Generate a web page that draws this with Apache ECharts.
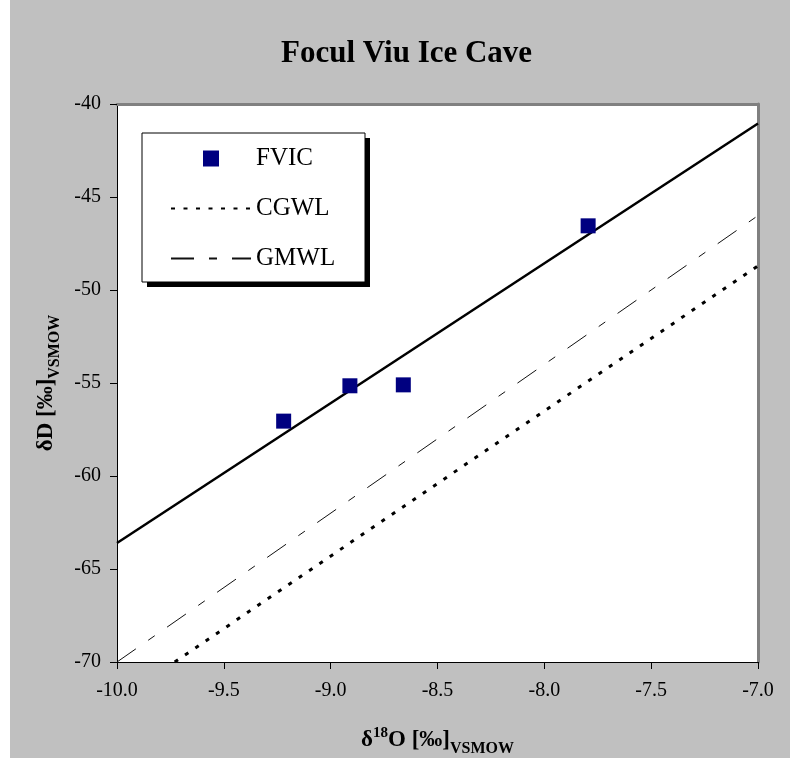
<!DOCTYPE html>
<html>
<head>
<meta charset="utf-8">
<script src="https://cdn.jsdelivr.net/npm/echarts@6/dist/echarts.min.js"></script>
<style>
  html, body { margin: 0; padding: 0; background: #fff; }
  #chart { position: absolute; left: 10px; top: 0; width: 780px; height: 758px; }
</style>
</head>
<body>
<div id="chart"></div>
<script>
// FVIC samples: [δ18O, δD] in ‰ VSMOW
const fvicSamples = [
  [-9.22, -57.05],
  [-8.91, -55.15],
  [-8.66, -55.10],
  [-7.795, -46.55]
];
// Least-squares fit through the FVIC samples, end points at the axis limits
const fvicTrend = [[-10, -63.6], [-7, -41.05]];
// Carpathian groundwater line end points
const cgwlLine = [[-9.73, -70], [-7, -48.7]];
// Global meteoric water line end points
const gmwlLine = [[-10, -70], [-7, -46]];

const xTicks = { min: -10, max: -7, step: 0.5 };
const yTicks = { min: -70, max: -40, step: 5 };
const legendNames = ['FVIC', 'CGWL', 'GMWL'];

const serif = "'Liberation Serif', 'Times New Roman', serif";
const squareIcon = 'path://M0,0H10V10H0Z';

const nameRich = {
  b: { fontFamily: serif, fontWeight: 'bold', fontSize: 23, color: '#000', lineHeight: 26, verticalAlign: 'bottom' },
  sup: { fontFamily: serif, fontWeight: 'bold', fontSize: 15, color: '#000', lineHeight: 26, verticalAlign: 'top' },
  sub: { fontFamily: serif, fontWeight: 'bold', fontSize: 16, color: '#000', lineHeight: 16, verticalAlign: 'bottom', padding: [0, 0, -5, 0] }
};

const chart = echarts.init(document.getElementById('chart'), null, { renderer: 'canvas' });

chart.setOption({
  backgroundColor: '#c0c0c0',
  animation: false,
  textStyle: { fontFamily: serif, color: '#000' },
  title: {
    text: 'Focul Viu Ice Cave',
    left: 266,
    top: 33,
    textStyle: { fontFamily: serif, fontWeight: 'bold', fontSize: 31, color: '#000' }
  },
  // legend frame with its drop shadow
  graphic: [
    {
      type: 'rect', z: 5, silent: true,
      shape: { x: 137, y: 138, width: 223, height: 149 },
      style: { fill: '#000' }
    },
    {
      type: 'rect', z: 6, silent: true,
      shape: { x: 132, y: 133, width: 223, height: 149 },
      style: { fill: '#fff', stroke: '#000', lineWidth: 1 }
    }
  ],
  legend: {
    data: [
      { name: legendNames[0], icon: squareIcon },
      { name: legendNames[1], itemStyle: { opacity: 0 } },
      { name: legendNames[2], itemStyle: { opacity: 0 } }
    ],
    z: 10,
    orient: 'vertical',
    left: 132,
    top: 133,
    padding: [13, 31, 11, 28],
    itemWidth: 80,
    itemHeight: 16,
    itemGap: 25,
    symbolKeepAspect: true,
    textStyle: { fontFamily: serif, fontSize: 25, color: '#000', lineHeight: 25 }
  },
  grid: {
    left: 107,
    right: 32,
    top: 104,
    bottom: 96,
    containLabel: false,
    outerBoundsMode: 'none',
    show: true,
    backgroundColor: '#fff',
    borderWidth: 0
  },
  xAxis: [
    {
      type: 'value',
      min: xTicks.min,
      max: xTicks.max,
      interval: xTicks.step,
      position: 'bottom',
      name: '{b|δ}{sup|18}{b|O [‰]}{sub|VSMOW}',
      nameLocation: 'middle',
      nameGap: 64,
      nameTextStyle: { rich: nameRich },
      axisLine: { onZero: false, lineStyle: { color: '#000', width: 1 } },
      axisTick: { show: true, inside: false, length: 7, lineStyle: { color: '#000', width: 1 } },
      axisLabel: {
        fontFamily: serif, fontSize: 20, color: '#000', margin: 19,
        formatter: v => v.toFixed(1)
      },
      splitLine: { show: false }
    },
    {
      type: 'value',
      min: xTicks.min,
      max: xTicks.max,
      position: 'top',
      axisLine: { onZero: false, lineStyle: { color: '#808080', width: 3 } },
      axisTick: { show: false },
      axisLabel: { show: false },
      splitLine: { show: false }
    }
  ],
  yAxis: [
    {
      type: 'value',
      min: yTicks.min,
      max: yTicks.max,
      interval: yTicks.step,
      position: 'left',
      name: '{b|δD [‰]}{sub|VSMOW}',
      nameLocation: 'middle',
      nameRotate: 90,
      nameGap: 59,
      nameTextStyle: { rich: nameRich },
      axisLine: { onZero: false, lineStyle: { color: '#000', width: 1 } },
      axisTick: { show: true, inside: false, length: 7, lineStyle: { color: '#000', width: 1 } },
      axisLabel: { fontFamily: serif, fontSize: 20, color: '#000', margin: 16 },
      splitLine: { show: false }
    },
    {
      type: 'value',
      min: yTicks.min,
      max: yTicks.max,
      position: 'right',
      axisLine: { onZero: false, lineStyle: { color: '#808080', width: 3 } },
      axisTick: { show: false },
      axisLabel: { show: false },
      splitLine: { show: false }
    }
  ],
  series: [
    {
      name: 'GMWL',
      type: 'line',
      data: gmwlLine,
      symbol: 'none',
      clip: true,
      itemStyle: { color: '#111' },
      lineStyle: { color: '#111', width: 1, type: [23, 15, 8, 15] },
      z: 2
    },
    {
      name: 'CGWL',
      type: 'line',
      data: cgwlLine,
      symbol: 'none',
      clip: true,
      itemStyle: { color: '#000' },
      lineStyle: { color: '#000', width: 3, type: [4, 8.5] },
      z: 2
    },
    {
      name: 'trend',
      type: 'line',
      data: fvicTrend,
      symbol: 'none',
      clip: true,
      itemStyle: { color: '#000' },
      lineStyle: { color: '#000', width: 2.5, type: 'solid' },
      z: 3
    },
    {
      name: 'FVIC',
      type: 'scatter',
      data: fvicSamples,
      symbol: 'rect',
      symbolSize: 15,
      itemStyle: { color: '#000080', opacity: 1 },
      z: 4
    }
  ]
});
</script>
</body>
</html>
